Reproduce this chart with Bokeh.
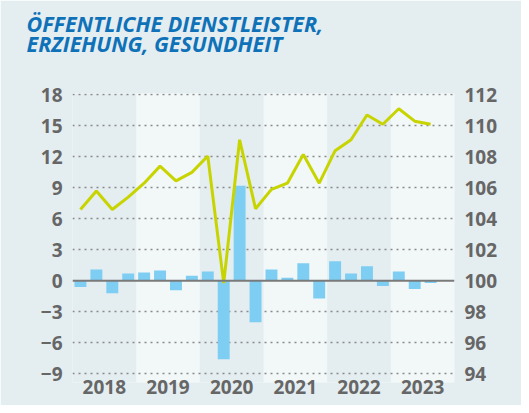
from bokeh.plotting import figure
from bokeh.models import Range1d, LinearAxis, FixedTicker, Title, Span
from bokeh.embed import file_html
from bokeh.resources import INLINE

# ---- data ----
years = ["2018", "2019", "2020", "2021", "2022", "2023"]
# quarterly change (left axis, %), Q1 2018 .. Q3 2023
bar_values = [-0.6, 1.1, -1.2, 0.7,
              0.8, 1.0, -0.9, 0.5,
              0.9, -7.6, 9.2, -4.0,
              1.1, 0.3, 1.7, -1.7,
              1.9, 0.7, 1.4, -0.5,
              0.9, -0.8, -0.2]
# index (right axis), Q1 2018 .. Q3 2023
line_values = [104.6, 105.8, 104.6, 105.4,
               106.3, 107.4, 106.45, 107.0,
               108.05, 99.85, 109.1, 104.65,
               105.9, 106.3, 108.15, 106.3,
               108.4, 109.1, 110.7, 110.1,
               111.1, 110.3, 110.1]
left_ticks = [-9, -6, -3, 0, 3, 6, 9, 12, 15, 18]
right_ticks = [94, 96, 98, 100, 102, 104, 106, 108, 110, 112]
title_lines = ["ÖFFENTLICHE DIENSTLEISTER,", "ERZIEHUNG, GESUNDHEIT"]

PANEL = "#e4edf0"
LIGHT = "#f2f7f8"
BAR = "#7ecef3"
LINE = "#c8d400"
GREY = "#666666"
BLUE = "#0f72b8"
FONT = "Open Sans"

n_q = len(years) * 4
y_lo, y_hi = -9.84, 18.13

p = figure(width=521, height=405, output_backend="svg", toolbar_location=None,
           x_range=Range1d(0, n_q), y_range=Range1d(y_lo, y_hi),
           min_border_left=72, min_border_right=67, min_border_bottom=23,
           min_border_top=93)
p.background_fill_color = PANEL
p.border_fill_color = PANEL
p.outline_line_color = None

p.extra_y_ranges = {"right": Range1d(100 + y_lo * 2 / 3, 100 + y_hi * 2 / 3)}

# alternating year bands
band_left = [i * 4 for i in range(len(years)) if i % 2 == 1]
band_right = [l + 4 for l in band_left]
bands = p.quad(left=band_left, right=band_right, bottom=y_lo - 5, top=y_hi + 5,
               fill_color=LIGHT, line_color=None)
bands.level = "image"

# bars
xs = [i + 0.5 for i in range(len(bar_values))]
p.vbar(x=xs, top=bar_values, bottom=0, width=0.75, fill_color=BAR, line_color=None)

# zero line
p.add_layout(Span(location=0, dimension="width", line_color="#7a7a7a", line_width=2))

# line on right axis
p.line(x=xs, y=line_values, y_range_name="right", line_color=LINE, line_width=3)

# grid
p.xgrid.visible = False
p.ygrid.ticker = FixedTicker(ticks=[t for t in left_ticks if t != 0])
p.ygrid.grid_line_color = "#8a8a8a"
p.ygrid.grid_line_dash = "2 4"
p.ygrid.grid_line_width = 1.5

# axes
def style_axis(ax):
    ax.axis_line_color = None
    ax.major_tick_line_color = None
    ax.minor_tick_line_color = None
    ax.major_tick_out = 0
    ax.major_tick_in = 0
    ax.minor_tick_out = 0
    ax.minor_tick_in = 0
    ax.major_label_text_font = FONT
    ax.major_label_text_font_style = "bold"
    ax.major_label_text_font_size = "19px"
    ax.major_label_text_color = GREY

p.yaxis.ticker = FixedTicker(ticks=left_ticks)
style_axis(p.yaxis[0])
p.yaxis.major_label_standoff = 10

ra = LinearAxis(y_range_name="right", ticker=FixedTicker(ticks=right_ticks))
style_axis(ra)
ra.major_label_standoff = 10
p.add_layout(ra, "right")

p.xaxis.ticker = FixedTicker(ticks=[i * 4 + 2 for i in range(len(years))])
p.xaxis.major_label_overrides = {i * 4 + 2: y for i, y in enumerate(years)}
style_axis(p.xaxis[0])
p.xaxis.major_label_standoff = -3

# spacer between title and plot area (closest to the frame)
spacer = Title(text=" ", text_font_size="1px", standoff=32)
p.add_layout(spacer, "above")

# title (two lines)
t = Title(text="\n".join(title_lines), text_font=FONT, text_font_style="bold italic",
          text_font_size="21.5px", text_color=BLUE, align="left", offset=-46,
          standoff=0, text_line_height=0.7)
p.add_layout(t, "above")

open("out.html", "w").write(file_html(p, INLINE))
